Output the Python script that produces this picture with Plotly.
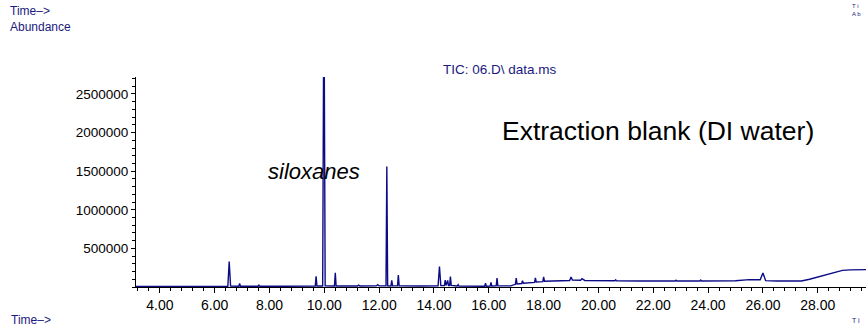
import plotly.graph_objects as go

# Retention time (min) and abundance
rt = [3.13, 4.0, 5.0, 6.0, 6.48, 6.53, 6.58, 6.88, 6.91, 6.94, 7.58, 7.61, 7.64,
      8.5, 9.5, 9.67, 9.70, 9.73, 9.94, 9.97, 10.0, 10.03, 10.37, 10.40, 10.43,
      11.2, 11.25, 11.3, 11.9, 11.95, 12.0, 12.25, 12.28, 12.31, 12.43, 12.46, 12.49,
      12.67, 12.70, 12.73, 13.5, 14.15, 14.2, 14.25, 14.38, 14.41, 14.44, 14.5, 14.53,
      14.57, 14.6, 14.63, 14.85, 14.88, 14.91, 15.6, 15.85, 15.88, 15.91, 16.05, 16.08,
      16.11, 16.27, 16.3, 16.33, 16.8, 16.97, 17.0, 17.03, 17.2, 17.23, 17.26, 17.5,
      17.67, 17.7, 17.73, 17.97, 18.0, 18.03, 18.5, 18.95, 19.0, 19.05, 19.35, 19.4,
      19.5, 20.0, 20.6, 20.63, 20.66, 21.5, 22.8, 22.83, 22.86, 23.7, 23.73, 23.76,
      25.0, 25.5, 25.9, 26.0, 26.1, 26.5, 27.4, 27.7, 28.0, 28.3, 28.6, 28.9, 29.2, 29.8]
abundance = [8000, 9000, 8000, 9000, 10000, 330000, 12000, 10000, 45000, 10000, 9000, 28000, 9000,
             9000, 10000, 12000, 140000, 12000, 12000, 2710000, 2710000, 15000, 12000, 185000, 12000,
             12000, 25000, 12000, 14000, 30000, 14000, 15000, 1560000, 15000, 14000, 85000, 14000,
             14000, 155000, 14000, 13000, 15000, 265000, 20000, 18000, 90000, 20000, 85000, 20000,
             20000, 135000, 20000, 12000, 30000, 12000, 10000, 10000, 50000, 10000, 12000, 60000,
             12000, 15000, 115000, 15000, 15000, 35000, 115000, 40000, 45000, 80000, 48000, 55000,
             60000, 118000, 65000, 70000, 132000, 75000, 78000, 85000, 130000, 90000, 88000, 108000,
             85000, 80000, 80000, 92000, 79000, 78000, 78000, 88000, 78000, 78000, 90000, 78000,
             80000, 95000, 93000, 182000, 82000, 78000, 78000, 100000, 130000, 160000, 185000, 215000, 222000, 225000]

y_ticks = [500000, 1000000, 1500000, 2000000, 2500000]
x_ticks = [4, 6, 8, 10, 12, 14, 16, 18, 20, 22, 24, 26, 28]

BLUE = "#1a1a80"
LINE = "#0b0b86"
FONT = "Arial, Liberation Sans, sans-serif"

fig = go.Figure()
fig.add_trace(go.Scatter(x=rt, y=abundance, mode="lines",
                         line=dict(color=LINE, width=1.4), hoverinfo="skip"))

fig.update_layout(
    width=866, height=330,
    margin=dict(l=136, r=0, t=77, b=43),
    paper_bgcolor="white", plot_bgcolor="white",
    showlegend=False,
    font=dict(family=FONT, color="black", size=12),
    xaxis=dict(range=[3.13, 29.76], tickvals=x_ticks,
               ticktext=[f"{v:.2f}" for v in x_ticks],
               showgrid=False, zeroline=False, showline=True, linecolor="black", linewidth=1,
               ticks="outside", ticklen=5, tickcolor="black",
               tickfont=dict(size=14, color="black"),
               minor=dict(dtick=0.4, tick0=4, ticks="outside", ticklen=3, tickcolor="black")),
    yaxis=dict(range=[0, 2720000], tickvals=y_ticks,
               ticktext=[str(v) for v in y_ticks],
               showgrid=False, zeroline=False, showline=True, linecolor="black", linewidth=1,
               ticks="outside", ticklen=4, tickcolor="black",
               tickfont=dict(size=13.5, color="black"),
               minor=dict(dtick=100000, tick0=0, ticks="outside", ticklen=3, tickcolor="black")),
)

W, H, L, B, T = 866, 330, 136, 43, 77
pw, ph = W - L, H - T - B
def px(xp): return (xp - L) / pw
def py(yp): return (H - B - yp) / ph

def ann(text, x, y, size, color=BLUE, italic=False, xanchor="left", align="left"):
    fig.add_annotation(text=f"<i>{text}</i>" if italic else text,
                       xref="paper", yref="paper", x=px(x), y=py(y), showarrow=False,
                       xanchor=xanchor, yanchor="middle", align=align,
                       font=dict(size=size, color=color, family=FONT))

ann("Time–&gt;<br>Abundance", 8, 19, 12)
ann("T i<br>A b", 850, 10, 6)
ann("Time–&gt;", 9, 320, 12)
ann("T i", 850, 320, 7)
ann("TIC: 06.D\\ data.ms", 500, 70, 13.5, xanchor="center", align="center")
ann("Extraction blank (DI water)", 658, 131, 26.5, color="black", xanchor="center", align="center")
ann("siloxanes", 314, 171, 22, color="black", italic=True, xanchor="center", align="center")

fig.write_html("out.html")
